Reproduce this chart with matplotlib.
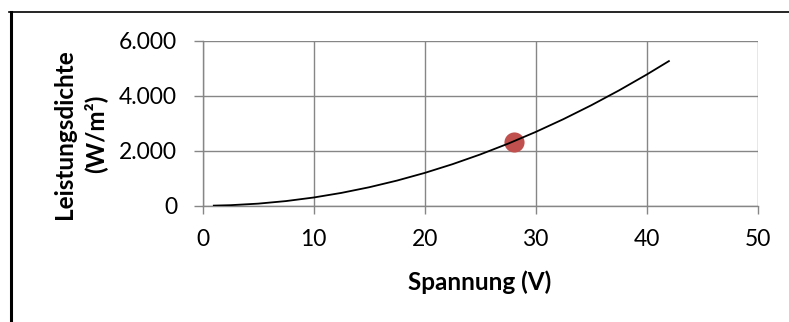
import matplotlib
matplotlib.use("Agg")
import matplotlib.pyplot as plt
from matplotlib.lines import Line2D
from matplotlib.ticker import FuncFormatter

# Data
voltage = [1, 2.5, 5, 7.5, 10, 12.5, 15, 17.5, 20, 22.5, 25, 27.5, 30, 32.5, 35, 37.5, 40, 42]
power_density = [3, 19, 75, 168, 298, 466, 671, 913, 1192, 1509, 1863, 2254, 2682, 3148, 3651, 4191, 4769, 5258]
point_v = [28]
point_p = [2330]

x_ticks = [0, 10, 20, 30, 40, 50]
y_ticks = [0, 2000, 4000, 6000]

plt.rcParams['font.family'] = ['Lato', 'DejaVu Sans']

fig = plt.figure(figsize=(7.89, 3.22), dpi=100)
W, H = 789, 322
ax = fig.add_axes([202.7 / W, 1 - 205.7 / H, (757.7 - 202.7) / W, (205.7 - 40.7) / H])

grid_c = '#868686'
ax.scatter(point_v, point_p, s=14.5 ** 2, color='#C0504D', zorder=3, linewidths=0)
ax.plot(voltage, power_density, color='black', lw=1.3, zorder=4)

ax.set_xlim(0, 50)
ax.set_ylim(0, 6000)
ax.set_xticks(x_ticks)
ax.set_yticks(y_ticks)
ax.yaxis.set_major_formatter(FuncFormatter(lambda v, p: f"{int(v):,}".replace(",", ".")))
ax.grid(True, color=grid_c, lw=1.0)
ax.set_axisbelow(True)
for s in ['top', 'right']:
    ax.spines[s].set_visible(False)
for s in ['left', 'bottom']:
    ax.spines[s].set_color(grid_c)
    ax.spines[s].set_linewidth(1.0)
ax.tick_params(axis='both', colors=grid_c, labelcolor='black', labelsize=16.5, width=1.0)
ax.tick_params(axis='x', length=5.5, pad=11)
ax.tick_params(axis='y', length=6.5, pad=12)

fig.text(480 / W, 1 - 282 / H, 'Spannung (V)', ha='center', va='center',
         fontsize=17.5, fontweight='bold')
fig.text(80 / W, 1 - 134 / H, 'Leistungsdichte\n(W/m²)', ha='center', va='center',
         rotation=90, fontsize=17.5, fontweight='bold', linespacing=1.35)

# outer frame
fig.add_artist(Line2D([10.5 / W, 10.5 / W], [1 - 11.5 / H, 0], transform=fig.transFigure,
                      color='black', lw=2.2))
fig.add_artist(Line2D([9 / W, 1], [1 - 11.7 / H, 1 - 11.7 / H], transform=fig.transFigure,
                      color='black', lw=1.2))

fig.savefig('out.png', dpi=100)
